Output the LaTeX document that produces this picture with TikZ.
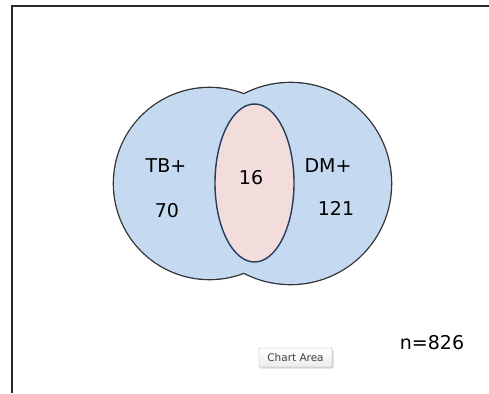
\documentclass[tikz,border=0pt]{standalone}
\usepackage{fontspec}
\setmainfont{DejaVu Sans}
\usepackage{xcolor}
\usetikzlibrary{positioning,shadows}

\definecolor{setblue}{RGB}{197,217,240}
\definecolor{setpink}{RGB}{242,220,220}
\definecolor{ringline}{RGB}{50,50,50}
\definecolor{lensline}{RGB}{35,60,95}
\definecolor{framegrey}{RGB}{40,40,40}

\begin{document}
\begin{tikzpicture}[x=1pt,y=-1pt,
    label/.style={font=\fontsize{19}{21}\selectfont, text=black, inner sep=0pt},
    tipbox/.style={draw=gray!70, rounded corners=1pt, top color=white, bottom color=gray!15,
        drop shadow={shadow xshift=1.5pt, shadow yshift=-1.5pt, fill=gray!60},
        font=\fontsize{10.5}{12}\selectfont, text=black!75, minimum width=73pt, minimum height=19pt, inner sep=1pt}]
    \useasboundingbox (0,0) rectangle (489,393);

    % Frame
    \draw[framegrey, line width=1.2pt] (12,393) -- (12,6) -- (489,6);

    % Sets (outline drawn twice as wide, then filled, so only the outer rim shows)
    \draw[ringline, line width=2.6pt] (209.5,183.5) circle (95.5);
    \draw[ringline, line width=2.6pt] (290.5,183.5) circle (100.5);
    \fill[setblue] (209.5,183.5) circle (95.5);
    \fill[setblue] (290.5,183.5) circle (100.5);

    % Overlap
    \draw[lensline, line width=1.4pt, fill=setpink] (254.5,183) ellipse (39.5 and 79);

    % Labels
    \node[label] (tb) at (166,166) {TB+};
    \node[label] (tbn) at (167,211) {70};
    \node[label] (both) at (251,178) {16};
    \node[label] (dm) at (328,166) {DM+};
    \node[label] (dmn) at (336,208) {121};
    \node[label] (total) at (432,343) {n=826};

    % Tooltip
    \node[tipbox] (tip) at (295.5,357.5) {Chart Area};
\end{tikzpicture}
\end{document}
